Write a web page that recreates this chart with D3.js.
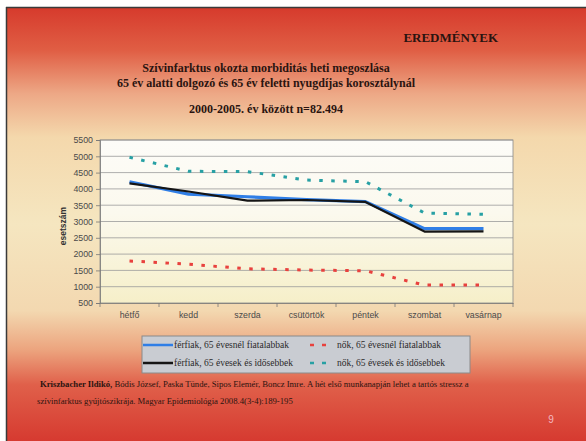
<!DOCTYPE html>
<html>
<head>
<meta charset="utf-8">
<script src="https://cdn.jsdelivr.net/npm/d3@7"></script>
<style>
  body { margin: 0; background: #fff; }
  svg { display: block; }
</style>
</head>
<body>
<svg id="chart" width="586" height="441"></svg>
<script>
// Days of the week (x categories)
var days = ["hétfő", "kedd", "szerda", "csütörtök", "péntek", "szombat", "vasárnap"];

// Case counts per day
var menYoung = [4220, 3840, 3760, 3670, 3610, 2780, 2780];   // férfiak, 65 évesnél fiatalabbak
var menOld = [4170, 3920, 3640, 3660, 3600, 2690, 2700];     // férfiak, 65 évesek és idősebbek
var womenYoung = [1790, 1690, 1550, 1510, 1490, 1050, 1050]; // nők, 65 évesnél fiatalabbak
var womenOld = [4970, 4540, 4530, 4270, 4220, 3260, 3220];   // nők, 65 évesek és idősebbek

var yTicks = [500, 1000, 1500, 2000, 2500, 3000, 3500, 4000, 4500, 5000, 5500];

var seriesNames = [
    "férfiak, 65 évesnél fiatalabbak",
    "férfiak, 65 évesek és idősebbek",
    "nők, 65 évesnél fiatalabbak",
    "nők, 65 évesek és idősebbek"
];

var svg = d3.select("#chart"),
    width = +svg.attr("width"),
    height = +svg.attr("height");

var defs = svg.append("defs");

// Slide background: red at the edges, cream in the middle
var bg = defs.append("linearGradient").attr("id", "slideBg")
    .attr("x1", 0).attr("y1", 0).attr("x2", 0).attr("y2", 1);
[[0, "#d63a2c"], [0.1, "#e05e44"], [0.2, "#eda886"], [0.3, "#f4d8ac"], [0.5, "#f5e6c0"],
 [0.7, "#f3d8b0"], [0.79, "#eca47e"], [0.87, "#e0604a"], [1, "#d63a30"]].forEach(function (s) {
    bg.append("stop").attr("offset", s[0]).attr("stop-color", s[1]);
});

var plotBg = defs.append("linearGradient").attr("id", "plotBg")
    .attr("x1", 0).attr("y1", 0).attr("x2", 0).attr("y2", 1);
plotBg.append("stop").attr("offset", 0).attr("stop-color", "#fdfcf8");
plotBg.append("stop").attr("offset", 0.45).attr("stop-color", "#fbf9ee");
plotBg.append("stop").attr("offset", 1).attr("stop-color", "#f6efc9");

// Slide frame
svg.append("rect").attr("x", 6).attr("y", 7).attr("width", width - 6).attr("height", height - 7)
    .attr("fill", "url(#slideBg)");
svg.append("line").attr("x1", 6.5).attr("x2", 6.5).attr("y1", 7).attr("y2", height)
    .attr("stroke", "#3a3a3a").attr("stroke-width", 1.5);
svg.append("line").attr("x1", 6).attr("x2", width).attr("y1", 7.5).attr("y2", 7.5)
    .attr("stroke", "#3a3a3a").attr("stroke-width", 1.5);

// Headings
svg.append("text").attr("x", 498).attr("y", 42).attr("text-anchor", "end")
    .style("font", "bold 13px 'Liberation Serif', serif").attr("fill", "#2a1410")
    .text("EREDMÉNYEK");

var titles = [
    ["Szívinfarktus okozta morbiditás heti megoszlása", 72],
    ["65 év alatti dolgozó és 65 év feletti nyugdíjas korosztálynál", 87],
    ["2000-2005. év között n=82.494", 113]
];
svg.selectAll("text.title").data(titles).enter().append("text")
    .attr("class", "title")
    .attr("x", 266).attr("y", function (d) { return d[1]; })
    .attr("text-anchor", "middle")
    .style("font", "bold 12px 'Liberation Serif', serif").attr("fill", "#2a1410")
    .text(function (d) { return d[0]; });

// Plot area
var plot = { left: 100, top: 140, right: 513, bottom: 303 };

var x = d3.scaleBand().domain(days).range([plot.left, plot.right]);
var y = d3.scaleLinear().domain([500, 5500]).range([plot.bottom, plot.top]);

svg.append("rect").attr("x", plot.left).attr("y", plot.top)
    .attr("width", plot.right - plot.left).attr("height", plot.bottom - plot.top)
    .attr("fill", "url(#plotBg)");

// Horizontal gridlines
svg.append("g").selectAll("line").data(yTicks.slice(1)).enter().append("line")
    .attr("x1", plot.left).attr("x2", plot.right)
    .attr("y1", function (d) { return y(d); }).attr("y2", function (d) { return y(d); })
    .attr("stroke", "#9a9a9a").attr("stroke-width", 0.8);

// Plot border
svg.append("rect").attr("x", plot.left).attr("y", plot.top)
    .attr("width", plot.right - plot.left).attr("height", plot.bottom - plot.top)
    .attr("fill", "none").attr("stroke", "#8a8a8a").attr("stroke-width", 0.8);

// Axes
var yAxis = svg.append("g").attr("transform", "translate(" + plot.left + ",0)")
    .call(d3.axisLeft(y).tickValues(yTicks).tickFormat(d3.format("d")).tickSize(4).tickPadding(3));
var xAxis = svg.append("g").attr("transform", "translate(0," + plot.bottom + ")")
    .call(d3.axisBottom(x).tickSize(0).tickPadding(9));

// tick marks between categories on the x axis
svg.append("g").selectAll("line").data(days.concat([""])).enter().append("line")
    .attr("x1", function (d, i) { return plot.left + i * x.step(); })
    .attr("x2", function (d, i) { return plot.left + i * x.step(); })
    .attr("y1", plot.bottom).attr("y2", plot.bottom + 4)
    .attr("stroke", "#777").attr("stroke-width", 0.8);

[yAxis, xAxis].forEach(function (ax) {
    ax.select(".domain").attr("stroke", "#777").attr("stroke-width", 0.8);
    ax.selectAll(".tick line").attr("stroke", "#777").attr("stroke-width", 0.8);
    ax.selectAll("text").attr("fill", "#4a4a4a")
        .style("font", "8.8px 'Liberation Sans', Arial, sans-serif");
});

svg.append("text")
    .attr("transform", "translate(66,226) rotate(-90)")
    .attr("text-anchor", "middle")
    .style("font", "bold 8.5px 'Liberation Sans', Arial, sans-serif")
    .attr("fill", "#333")
    .text("esetszám");

// Lines
var lineGen = d3.line()
    .x(function (d, i) { return x(days[i]) + x.bandwidth() / 2; })
    .y(function (d) { return y(d); });

var series = [
    { values: womenYoung, color: "#e8413e", width: 3, dash: "3.5,8.5" },
    { values: womenOld, color: "#27a0a4", width: 3, dash: "3.5,8.5" },
    { values: menYoung, color: "#2f7ee6", width: 3.2, dash: null },
    { values: menOld, color: "#151515", width: 2.2, dash: null }
];

svg.append("g").selectAll("path").data(series).enter().append("path")
    .attr("d", function (d) { return lineGen(d.values); })
    .attr("fill", "none")
    .attr("stroke", function (d) { return d.color; })
    .attr("stroke-width", function (d) { return d.width; })
    .attr("stroke-dasharray", function (d) { return d.dash; })
    .attr("stroke-linejoin", "round");

// Legend
var legend = svg.append("g");
legend.append("rect").attr("x", 142).attr("y", 336).attr("width", 328).attr("height", 37)
    .attr("fill", "#c9ccd2").attr("stroke", "#8a8a8a").attr("stroke-width", 1);

var legendItems = [
    { name: seriesNames[0], color: "#2f7ee6", dash: null, x: 143, y: 345 },
    { name: seriesNames[1], color: "#151515", dash: null, x: 143, y: 363 },
    { name: seriesNames[2], color: "#e8413e", dash: "4,8", x: 310, y: 345 },
    { name: seriesNames[3], color: "#27a0a4", dash: "4,8", x: 310, y: 363 }
];

var li = legend.selectAll("g.item").data(legendItems).enter().append("g").attr("class", "item");
li.append("line")
    .attr("x1", function (d) { return d.x; })
    .attr("x2", function (d) { return d.x + (d.dash ? 17 : 30); })
    .attr("y1", function (d) { return d.y; }).attr("y2", function (d) { return d.y; })
    .attr("stroke", function (d) { return d.color; })
    .attr("stroke-width", 2.5)
    .attr("stroke-dasharray", function (d) { return d.dash; });
li.append("text")
    .attr("x", function (d) { return d.x + (d.dash ? 27 : 31); })
    .attr("y", function (d) { return d.y + 3; })
    .style("font-family", "'Liberation Serif', 'Times New Roman', serif")
    .style("font-size", "9.5px")
    .attr("fill", "#2a2a2a")
    .text(function (d) { return d.name; });

// Reference
var ref = svg.append("text").attr("x", 40).attr("y", 387)
    .style("font", "8.7px 'Liberation Serif', serif").attr("fill", "#2a1410");
ref.append("tspan").style("font-weight", "bold").text("Kriszbacher Ildikó,");
ref.append("tspan").text(" Bódis József, Paska Tünde, Sipos Elemér, Boncz Imre. A hét első munkanapján lehet a tartós stressz a");
svg.append("text").attr("x", 37).attr("y", 404)
    .style("font", "8.7px 'Liberation Serif', serif").attr("fill", "#2a1410")
    .text("szívinfarktus gyújtószikrája. Magyar Epidemiológia 2008.4(3-4):189-195");

// Slide number
svg.append("text").attr("x", 551).attr("y", 423).attr("text-anchor", "middle")
    .style("font", "10px 'Liberation Sans', Arial, sans-serif").attr("fill", "#f4b8c0")
    .text("9");
</script>
</body>
</html>
